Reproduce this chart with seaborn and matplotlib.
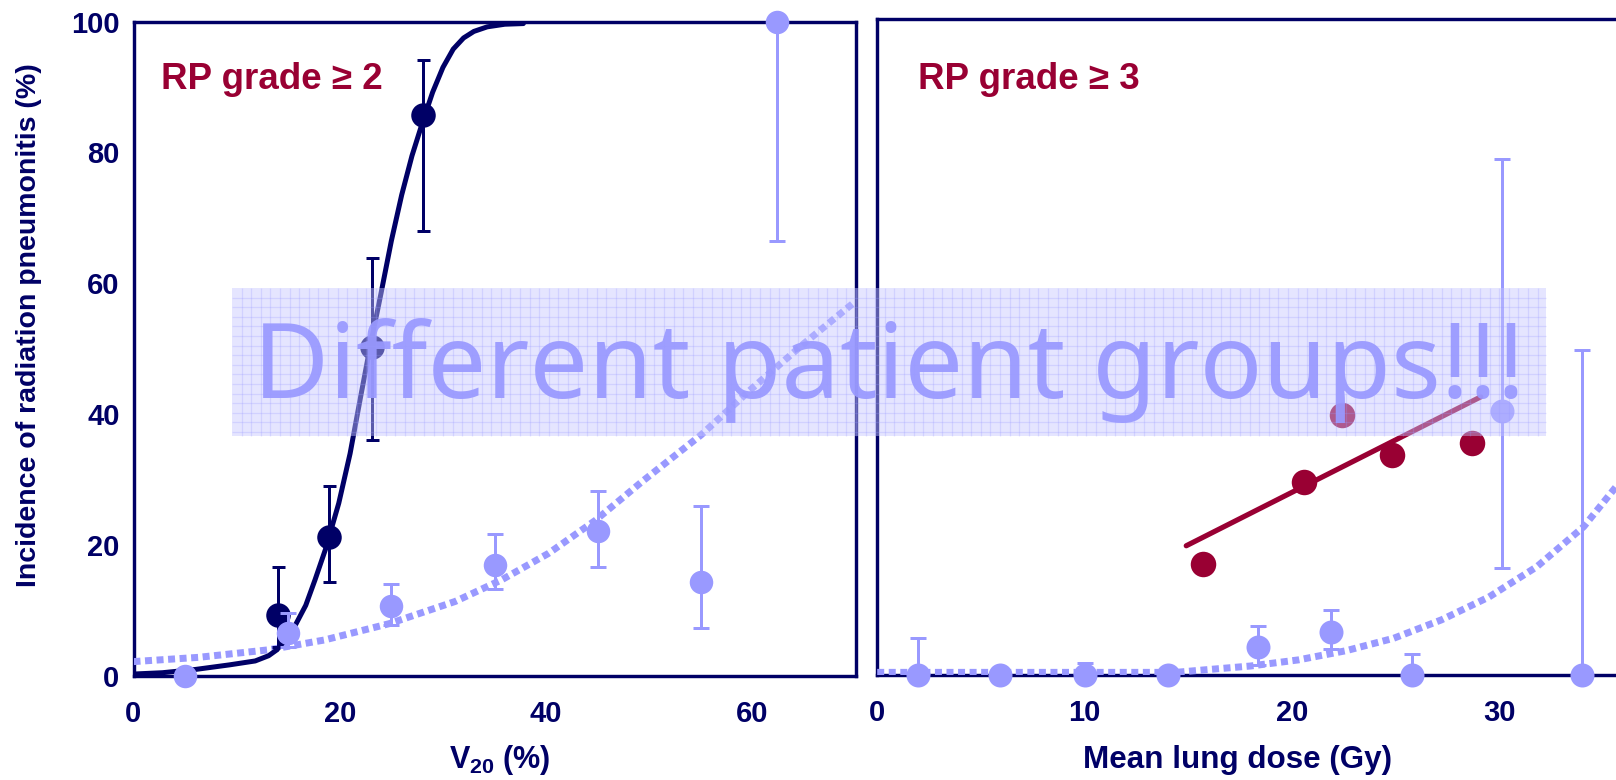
import matplotlib
matplotlib.use("Agg")
import matplotlib.pyplot as plt
import seaborn as sns
import pandas as pd
from matplotlib.patches import Rectangle
from matplotlib.collections import LineCollection
from matplotlib.ticker import FixedLocator, NullFormatter

NAVY = "#000066"
LILAC = "#9999FF"
CRIMSON = "#990033"

# ---------------- left panel: RP grade >= 2 versus V20 ----------------
v20_fit_x = [0, 2.8, 6.0, 9.3, 11.8, 13.1, 13.9, 14.7, 15.7, 16.7, 17.6, 18.6, 19.9,
             21.0, 22.0, 22.9, 24.0, 25.0, 26.0, 27.0, 28.0, 29.0, 30.0, 31.0,
             32.0, 33.0, 34.3, 36.0, 37.8]
v20_fit_y = [0.3, 0.5, 1.0, 1.7, 2.3, 3.1, 4.0, 5.5, 7.8, 10.8, 14.7, 19.3, 26.4,
             34.0, 42.5, 50.0, 58.5, 66.5, 73.5, 79.5, 84.5, 89.2, 93.0, 95.8,
             97.5, 98.5, 99.2, 99.6, 99.7]

v20_x = [14.0, 19.0, 23.1, 28.1]
v20_y = [9.3, 21.2, 50.3, 85.7]
v20_lo = [4.5, 14.4, 36.1, 68.0]
v20_hi = [16.6, 29.0, 63.9, 94.2]

v20_other_x = [5.0, 15.0, 25.0, 35.0, 45.0, 55.0, 62.4]
v20_other_y = [0.0, 6.5, 10.7, 17.0, 22.2, 14.4, 100.0]
v20_other_lo = [0.0, 4.5, 7.8, 13.3, 16.6, 7.4, 66.5]
v20_other_hi = [0.0, 9.7, 14.1, 21.7, 28.3, 26.0, 100.0]

v20_other_fit_x = [0, 6.3, 13.1, 18.5, 24.8, 31.2, 35.7, 40.25, 44.8, 49.3, 55.0, 60.0, 65.0, 69.8]
v20_other_fit_y = [2.2, 2.85, 4.0, 5.5, 8.0, 11.4, 14.7, 18.75, 23.8, 29.7, 36.8, 44.0, 50.8, 57.0]

# ---------------- right panel: RP grade >= 3 versus mean lung dose ----------------
mld_x = [15.7, 20.6, 24.8, 28.7, 22.4]
mld_y = [16.9, 29.4, 33.5, 35.4, 39.6]
mld_line_x = [14.9, 29.1]
mld_line_y = [19.7, 42.4]

mld_other_x = [1.95, 5.9, 10.0, 14.0, 18.35, 21.9, 25.8, 30.1, 34.0]
mld_other_y = [0.0, 0.0, 0.0, 0.0, 4.3, 6.6, 0.0, 40.3, 0.0]
mld_other_lo = [0.0, 0.0, 0.0, 0.0, 1.5, 3.9, 0.0, 16.3, 0.0]
mld_other_hi = [5.7, 0.0, 1.9, 0.0, 7.5, 9.9, 3.2, 78.6, 49.5]

mld_other_fit_x = [0, 14.4, 15.7, 18.0, 20.3, 22.6, 24.9, 27.2, 29.5, 31.8, 34.06, 35.7]
mld_other_fit_y = [0.4, 0.4, 0.76, 1.37, 2.3, 3.7, 5.6, 8.4, 11.9, 16.5, 22.6, 29.0]

banner_text = "Different patient groups!!!"

# ---------------- style ----------------
sns.set_theme(style="white")
plt.rcParams["font.family"] = ["Liberation Sans", "DejaVu Sans"]
plt.rcParams["mathtext.fontset"] = "custom"
plt.rcParams["mathtext.rm"] = "Liberation Sans:bold"
plt.rcParams["mathtext.it"] = "Liberation Sans:bold"
plt.rcParams["mathtext.bf"] = "Liberation Sans:bold"
plt.rcParams["mathtext.default"] = "rm"

W, H = 1616, 780
fig = plt.figure(figsize=(W / 100, H / 100), dpi=100)
fig.patch.set_facecolor("white")

def px_axes(x0, x1, ytop, ybot):
    return fig.add_axes([x0 / W, 1 - ybot / H, (x1 - x0) / W, (ybot - ytop) / H])

axL = px_axes(133.5, 855.5, 21.6, 676)
axR = px_axes(877.2, 1616, 19, 675)

PX = 0.72  # points per pixel at 100 dpi
dot_style = dict(linestyle=(0, (1, 0.65)), dash_capstyle="butt", linewidth=7.0 * PX)


def series_df(x, y):
    return pd.DataFrame({"x": x, "y": y})


def err(ax, x, y, lo, hi, color, capsize, z):
    yerr = [[yv - l for yv, l in zip(y, lo)], [h - yv for yv, h in zip(y, hi)]]
    ax.errorbar(x, y, yerr=yerr, fmt="none", ecolor=color, elinewidth=3.0 * PX,
                capsize=capsize * PX, capthick=3.0 * PX, zorder=z, clip_on=False)


# left panel
sns.lineplot(data=series_df(v20_other_fit_x, v20_other_fit_y), x="x", y="y", ax=axL,
             color=LILAC, sort=False, estimator=None, zorder=3, **dot_style)
sns.lineplot(data=series_df(v20_fit_x, v20_fit_y), x="x", y="y", ax=axL,
             color=NAVY, sort=False, estimator=None, linewidth=5.0 * PX, zorder=4,
             solid_joinstyle="round")
err(axL, v20_x, v20_y, v20_lo, v20_hi, NAVY, 6.5, 5)
sns.scatterplot(data=series_df(v20_x, v20_y), x="x", y="y", ax=axL, color=NAVY,
                s=(24.5 * PX) ** 2, linewidth=0, zorder=6, clip_on=False)
err(axL, v20_other_x, v20_other_y, v20_other_lo, v20_other_hi, LILAC, 8, 7)
sns.scatterplot(data=series_df(v20_other_x, v20_other_y), x="x", y="y", ax=axL,
                color=LILAC, s=(23.5 * PX) ** 2, linewidth=0, zorder=8, clip_on=False)

# right panel
sns.lineplot(data=series_df(mld_other_fit_x, mld_other_fit_y), x="x", y="y", ax=axR,
             color=LILAC, sort=False, estimator=None, zorder=3, **dot_style)
sns.lineplot(data=series_df(mld_line_x, mld_line_y), x="x", y="y", ax=axR,
             color=CRIMSON, sort=False, estimator=None, linewidth=5.2 * PX, zorder=4)
sns.scatterplot(data=series_df(mld_x, mld_y), x="x", y="y", ax=axR, color=CRIMSON,
                s=(25.5 * PX) ** 2, linewidth=0, zorder=5, clip_on=False)
err(axR, mld_other_x, mld_other_y, mld_other_lo, mld_other_hi, LILAC, 8, 6)
sns.scatterplot(data=series_df(mld_other_x, mld_other_y), x="x", y="y", ax=axR,
                color=LILAC, s=(24 * PX) ** 2, linewidth=0, zorder=7, clip_on=False)

# axes limits, ticks, spines
axL.set_xlim(0, 70)
axL.set_ylim(0, 100)
axR.set_xlim(0, 35.62)
axR.set_ylim(0, 100)

axL.xaxis.set_major_locator(FixedLocator([0, 20, 40, 60]))
axL.xaxis.set_minor_locator(FixedLocator([10, 30, 50]))
axL.yaxis.set_major_locator(FixedLocator([0, 20, 40, 60, 80, 100]))
axL.yaxis.set_minor_locator(FixedLocator([10, 30, 50, 70, 90]))
axR.xaxis.set_major_locator(FixedLocator([0, 10, 20, 30]))
axR.xaxis.set_minor_locator(FixedLocator([5, 15, 25, 35]))
axR.yaxis.set_major_locator(FixedLocator(list(range(0, 101, 10))))
axR.yaxis.set_major_formatter(NullFormatter())

LW = 3.4 * PX
tick_font = dict(labelsize=21, labelcolor=NAVY, color=NAVY, direction="in", width=LW)
for ax in (axL, axR):
    ax.set_xlabel("")
    ax.set_ylabel("")
    ax.grid(False)
    ax.set_facecolor("none")
    for s in ax.spines.values():
        s.set_color(NAVY)
        s.set_linewidth(LW)
        s.set_zorder(2.5)
    ax.tick_params(axis="x", which="major", length=12 * PX, pad=17.5, **tick_font)
    ax.tick_params(axis="x", which="minor", length=9 * PX, direction="in",
                   width=LW, color=NAVY)
    ax.tick_params(axis="y", which="major", length=10 * PX, pad=10, **tick_font)
    ax.tick_params(axis="y", which="minor", length=8.5 * PX, direction="in",
                   width=LW, color=NAVY)
    for lab in ax.get_xticklabels() + ax.get_yticklabels():
        lab.set_fontweight("bold")
axR.tick_params(axis="y", which="major", length=8.5 * PX)
axR.spines["right"].set_visible(False)

# axis titles
axL.set_ylabel("Incidence of radiation pneumonitis (%)", fontsize=20.5,
               fontweight="bold", color=NAVY, va="center")
axL.yaxis.set_label_coords(-0.1447, 0.5356)
axL.set_xlabel("V$_{20}$ (%)", fontsize=22, fontweight="bold", color=NAVY, va="baseline")
axL.xaxis.set_label_coords(0.5076, -0.1406)
axR.set_xlabel("Mean lung dose (Gy)", fontsize=22.6, fontweight="bold", color=NAVY,
               va="baseline")
axR.xaxis.set_label_coords(0.488, -0.1418)

# panel headings
axL.text(0.0386, 0.8965, "RP grade ≥ 2", transform=axL.transAxes, fontsize=26.5,
         fontweight="bold", color=CRIMSON, ha="left", va="baseline")
axR.text(0.0551, 0.8928, "RP grade ≥ 3", transform=axR.transAxes, fontsize=26.5,
         fontweight="bold", color=CRIMSON, ha="left", va="baseline")

# translucent banner with a fine grid
bx0, bx1, by0, by1 = 232, 1546, 288, 435.5
fig.add_artist(Rectangle((bx0 / W, 1 - by1 / H), (bx1 - bx0) / W, (by1 - by0) / H,
                         transform=fig.transFigure, facecolor=(0.78, 0.78, 1.0),
                         alpha=0.45, edgecolor="none", zorder=1))
segs = []
step = 9.6
k = 1
while bx0 + k * step < bx1:
    xx = (bx0 + k * step) / W
    segs.append([(xx, 1 - by0 / H), (xx, 1 - by1 / H)])
    k += 1
k = 1
while by0 + k * step < by1:
    yy = 1 - (by0 + k * step) / H
    segs.append([(bx0 / W, yy), (bx1 / W, yy)])
    k += 1
fig.add_artist(LineCollection(segs, colors=[(0.6, 0.6, 1.0, 0.25)], linewidths=0.9,
                              transform=fig.transFigure, zorder=2))

banner = fig.text(253 / W, 1 - 398.5 / H, banner_text, fontsize=80,
                  family=["Noto Sans", "DejaVu Sans"], color=LILAC, ha="left",
                  va="baseline", alpha=0.93, zorder=3)
fig.canvas.draw()
wid = banner.get_window_extent().width
banner.set_fontsize(80 * 1272 / wid)

fig.savefig("out.png", dpi=100, facecolor="white")
